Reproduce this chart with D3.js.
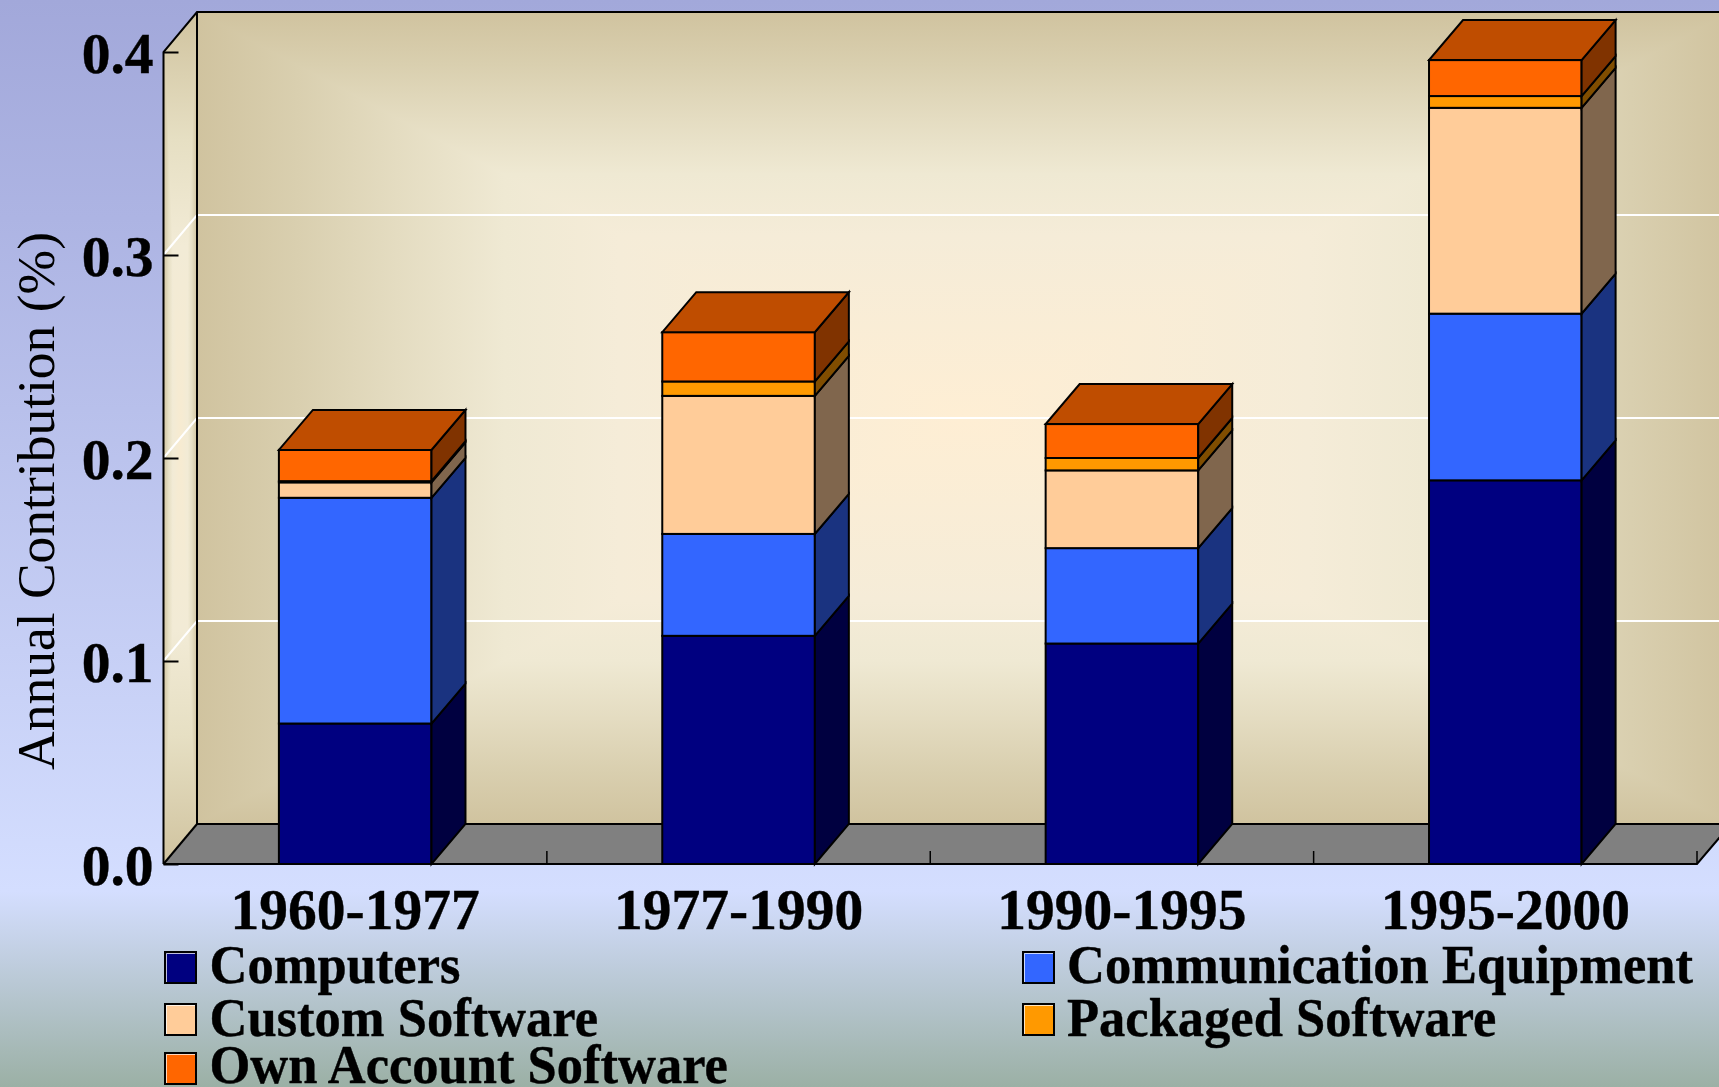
<!DOCTYPE html>
<html><head><meta charset="utf-8">
<style>html,body{margin:0;padding:0;background:#fff}svg{display:block}text{font-family:"Liberation Serif",serif;fill:#000}</style>
<script src="https://cdn.jsdelivr.net/npm/d3@7/dist/d3.min.js"></script></head><body>
<script>
const categories=["1960-1977","1977-1990","1990-1995","1995-2000"];
const seriesNames=["Computers","Communication Equipment","Custom Software","Packaged Software","Own Account Software"];
const computers=[0.0692,0.1124,0.1086,0.1890];
const communication=[0.1112,0.0502,0.0470,0.0821];
const customSoftware=[0.0076,0.0680,0.0383,0.1014];
const packagedSoftware=[0.0006,0.0071,0.0061,0.0058];
const ownAccount=[0.0154,0.0243,0.0167,0.0177];
const yTicks=[0,0.1,0.2,0.3,0.4];
const frontColors=["#000080","#3366ff","#ffcc99","#ff9900","#ff6600"];
const sideColors=["#000040","#1a3380","#80664d","#804d00","#803300"];
const topColor="#bf4d00";
const W=1719,H=1087,depthX=34,depthY=40;
const x0=163.5,x1=1697,yB=864,yT=52;
const values=[computers,communication,customSoftware,packagedSoftware,ownAccount];
const svg=d3.select("body").append("svg").attr("width",W).attr("height",H);
const defs=svg.append("defs");
const y=d3.scaleLinear().domain([0,0.4]).range([yB,yT]);
const x=d3.scaleBand().domain(categories).range([x0,x1]).paddingInner(0.602).paddingOuter(0.301);

function lg(id,x1_,y1_,x2_,y2_,stops){
  const g=defs.append("linearGradient").attr("id",id).attr("gradientUnits","userSpaceOnUse")
    .attr("x1",x1_).attr("y1",y1_).attr("x2",x2_).attr("y2",y2_);
  stops.forEach(s=>g.append("stop").attr("offset",s[0]).attr("stop-color",s[1]));
}
lg("page",0,0,0,H,[[0,"#a2a8da"],[0.2,"#adb4e3"],[0.82,"#d4deff"],[1,"#9bb0a5"]]);
svg.append("rect").attr("width",W).attr("height",H).attr("fill","url(#page)");

const wallStops=[[0,"#feeed4"],[0.45,"#f5ecd8"],[0.6,"#efe9d3"],[0.74,"#e4dcc1"],[0.87,"#d9cfaf"],[1,"#d0c39f"]];
function symStops(st){
  const a=st.map(s=>[(1-s[0])/2,s[1]]).reverse();
  const b=st.slice(1).map(s=>[(1+s[0])/2,s[1]]);
  return a.concat(b);
}
function rectGradient(id,g,l,t,r,b,stops){
  lg(id+"h",l,0,r,0,symStops(stops));
  lg(id+"v",0,t,0,b,symStops(stops));
  g.append("rect").attr("x",l).attr("y",t).attr("width",r-l).attr("height",b-t).attr("fill",`url(#${id}h)`);
  const cx=(l+r)/2,cy=(t+b)/2;
  [[[l,t],[r,t],[cx,cy]],[[l,b],[r,b],[cx,cy]]].forEach(p=>
    g.append("polygon").attr("points",p.join(" ")).attr("fill",`url(#${id}v)`));
}
// back wall
const wallL=x0+depthX-0.5,wallR=x1+depthX,wallT=12,wallB=824;
rectGradient("wall",svg.append("g"),wallL,wallT,wallR,wallB,wallStops);
// left wall
defs.append("clipPath").attr("id","sideClip").append("polygon")
  .attr("points",[[x0,yT],[wallL,wallT],[wallL,wallB],[x0,yB]].join(" "));
const sideG=svg.append("g").attr("clip-path","url(#sideClip)");
rectGradient("side",sideG,x0,wallT,wallL,yB,[[0,"#f7ebd1"],[0.45,"#f2ebd6"],[0.7,"#e6dfc3"],[1,"#d0c39f"]]);
// floor
svg.append("polygon").attr("fill","#808080")
  .attr("points",[[x0,yB],[wallL,wallB],[wallR,wallB],[x1,yB]].join(" "));
// grid
const grid=svg.append("g").attr("stroke","#fff").attr("stroke-width",2).attr("fill","none");
yTicks.filter(v=>v>0&&v<0.4).forEach(v=>{
  grid.append("path").attr("d",`M${x0},${y(v)}L${wallL},${y(v)-depthY}L${wallR},${y(v)-depthY}`);
});
// frame
const frame=svg.append("g").attr("stroke","#000").attr("stroke-width",2).attr("fill","none");
frame.append("path").attr("d",`M${x0},${yB}L${x0},${yT}L${wallL},${wallT}L${W+5},${wallT}`);
frame.append("path").attr("d",`M${wallL},${wallT}L${wallL},${wallB}L${W+5},${wallB}`);
frame.append("path").attr("d",`M${x0},${yB}L${wallL},${wallB}`);
frame.append("path").attr("d",`M${x0},${yB}L${x1},${yB}L${wallR},${wallB}`);

// y axis
const yAxis=d3.axisLeft(y).tickValues(yTicks).tickSize(-15).tickPadding(10).tickFormat(d3.format(".1f"));
const yg=svg.append("g").attr("transform",`translate(${x0},0)`).call(yAxis);
yg.select(".domain").remove();
yg.selectAll("line").attr("stroke","#000").attr("stroke-width",2);
yg.selectAll("text").attr("font-size",57.5).attr("font-weight","bold").attr("dy",20)
  .attr("stroke","#000").attr("stroke-width",0.4)
  .style("font-family",'"Liberation Serif",serif');
// x axis
const xAxis=d3.axisBottom(x).tickSize(0).tickPadding(0);
const xg=svg.append("g").attr("transform",`translate(0,${yB})`).call(xAxis);
xg.select(".domain").remove();
xg.selectAll("line").remove();
xg.selectAll("text").attr("font-size",57.5).attr("font-weight","bold").attr("y",65).attr("dy",0)
  .attr("stroke","#000").attr("stroke-width",0.4)
  .style("font-family",'"Liberation Serif",serif');
const step=x.step(),bw=x.bandwidth();
svg.append("g").selectAll("line").data(categories).join("line")
  .attr("x1",d=>x(d)+bw/2+step/2).attr("x2",d=>x(d)+bw/2+step/2)
  .attr("y1",yB).attr("y2",yB-13).attr("stroke","#000").attr("stroke-width",1.5);

// bars
const barG=svg.append("g").attr("stroke","#000").attr("stroke-width",2).attr("stroke-linejoin","miter");
categories.forEach((c,i)=>{
  let sum=0;const bx=x(c),g=barG.append("g");
  values.forEach((arr,s)=>{
    const y0=y(sum);sum+=arr[i];const y1=y(sum);
    g.append("rect").attr("x",bx).attr("y",y1).attr("width",bw).attr("height",y0-y1).attr("fill",frontColors[s]);
    g.append("polygon").attr("fill",sideColors[s])
      .attr("points",[[bx+bw,y0],[bx+bw,y1],[bx+bw+depthX,y1-depthY],[bx+bw+depthX,y0-depthY]].join(" "));
  });
  const t=y(sum);
  g.append("polygon").attr("fill",topColor)
    .attr("points",[[bx,t],[bx+bw,t],[bx+bw+depthX,t-depthY],[bx+depthX,t-depthY]].join(" "));
});

// title
svg.append("text").attr("transform","translate(54,501) rotate(-90)").attr("text-anchor","middle")
  .attr("font-size",53.5).text("Annual Contribution (%)");

// legend
const legendX=[165,1023,165,1023,165],legendY=[952,952,1004,1004,1053],legendBase=[983,983,1036,1036,1083];
const legendTextX=[209.5,1067,209.5,1067,209.5];
const lgd=svg.append("g");
seriesNames.forEach((n,i)=>{
  lgd.append("rect").attr("x",legendX[i]).attr("y",legendY[i]).attr("width",31).attr("height",31)
    .attr("fill",frontColors[i]).attr("stroke","#000").attr("stroke-width",2);
  lgd.append("path").attr("d",`M${legendX[i]+1.5},${legendY[i]+30}V${legendY[i]+1.5}H${legendX[i]+30}`)
    .attr("fill","none").attr("stroke","#fff").attr("stroke-opacity",0.75).attr("stroke-width",1);
  lgd.append("text").attr("transform",`translate(${legendTextX[i]},${legendBase[i]}) scale(0.955,1)`)
    .attr("font-size",55).attr("font-weight","bold").attr("stroke","#000").attr("stroke-width",0.4).text(n);
});
</script></body></html>
